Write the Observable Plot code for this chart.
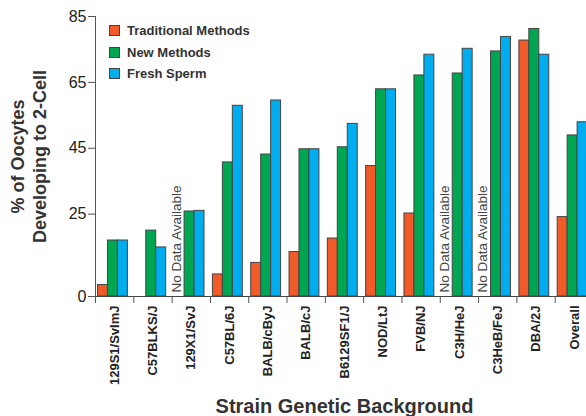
<!DOCTYPE html>
<html>
<head>
<meta charset="utf-8">
<script src="https://cdn.jsdelivr.net/npm/d3@7"></script>
<script src="https://cdn.jsdelivr.net/npm/@observablehq/plot@0.6"></script>
<style>
  html, body { margin: 0; padding: 0; background: #fff; overflow: hidden; }
  #wrap { position: relative; width: 586px; height: 416px; overflow: hidden; font-family: "Liberation Sans", Arial, sans-serif; }
  #legend { position: absolute; left: 109px; top: 20px; }
  .item { display: flex; align-items: center; height: 21.5px; font-weight: bold; font-size: 13px; color: #333; }
  .sw { width: 9px; height: 9px; border: 1px solid #444; margin-right: 7px; }
</style>
</head>
<body>
<div id="wrap"><div id="legend"></div></div>
<script>
const strains = ["129S1/SvImJ","C57BLKS/J","129X1/SvJ","C57BL/6J","BALB/cByJ","BALB/cJ","B6129SF1/J","NOD/LtJ","FVB/NJ","C3H/HeJ","C3HeB/FeJ","DBA/2J","Overall"];
const methods = ["Traditional Methods","New Methods","Fresh Sperm"];
const traditional = [3.5, null, null, 6.7, 10.2, 13.5, 17.6, 39.6, 25.2, null, null, 77.7, 24.1];
const newMethods  = [17.0, 20.0, 25.8, 40.7, 43.1, 44.7, 45.3, 62.9, 67.1, 67.7, 74.4, 81.2, 48.9];
const fresh       = [17.0, 14.9, 26.0, 57.9, 59.5, 44.7, 52.4, 62.9, 73.4, 75.2, 78.8, 73.4, 52.9];
const noData = ["129X1/SvJ","C3H/HeJ","C3HeB/FeJ"];
const yTicks = [0, 25, 45, 65, 85];
const colors = ["#F15A29", "#00A651", "#00AEEF"];

const series = [traditional, newMethods, fresh];
const table = [];
strains.forEach((s, i) => methods.forEach((m, j) => {
  const v = series[j][i];
  if (v != null) table.push({strain: s, i, method: m, j, value: v});
}));

const off = 0.065, bw = 0.26;

const chart = Plot.plot({
  width: 586, height: 416,
  marginLeft: 95, marginTop: 16, marginBottom: 120, marginRight: 0,
  style: {fontFamily: '"Liberation Sans", Arial, sans-serif', color: "#333", overflow: "hidden", background: "#fff"},
  x: {domain: [0, strains.length], range: [95, 593]},
  y: {domain: [0, 85]},
  color: {domain: methods, range: colors},
  marks: [
    Plot.rect(table, {
      x1: d => d.i + off + d.j * bw,
      x2: d => d.i + off + (d.j + 1) * bw,
      y1: 0, y2: "value",
      fill: "method", stroke: "#444", strokeWidth: 1
    }),
    Plot.text(noData, {
      x: d => strains.indexOf(d) + off + bw / 2, y: 0,
      text: () => "No Data Available",
      rotate: -90, textAnchor: "start", dx: -3, dy: -4, fontSize: 13.5, fill: "#444"
    }),
    Plot.ruleX([0], {stroke: "#555"}),
    Plot.ruleY([0], {stroke: "#444"}),
    Plot.axisY({ticks: yTicks, tickSize: 7, tickPadding: 2, fontSize: 16, label: null, stroke: "#555", fill: "#222"}),
    Plot.axisX({ticks: d3.range(strains.length + 1), tickSize: 7, tickFormat: () => "", label: null, stroke: "#555"}),
    Plot.axisX({
      ticks: strains.map((s, i) => i + 0.5), tickFormat: d => strains[Math.floor(d)],
      tickSize: 0, tickPadding: 9, tickRotate: -90, fontSize: 13, fontWeight: "bold", fill: "#222", label: null
    }),
    Plot.text(["Strain Genetic Background"], {
      x: strains.length / 2, frameAnchor: "bottom", dy: 116, lineAnchor: "bottom",
      fontSize: 20, fontWeight: "bold", fill: "#333"
    }),
    Plot.text(["% of Oocytes"], {
      y: 42.5, frameAnchor: "left", dx: -77, rotate: -90, textAnchor: "middle", lineAnchor: "middle",
      fontSize: 18, fontWeight: "bold", fill: "#333"
    }),
    Plot.text(["Developing to 2-Cell"], {
      y: 42.5, frameAnchor: "left", dx: -55, rotate: -90, textAnchor: "middle", lineAnchor: "middle",
      fontSize: 18, fontWeight: "bold", fill: "#333"
    })
  ]
});
const wrap = document.getElementById("wrap");
wrap.insertBefore(chart, wrap.firstChild);

const legend = document.getElementById("legend");
methods.forEach((m, j) => {
  const it = document.createElement("div");
  it.className = "item";
  const sw = document.createElement("div");
  sw.className = "sw";
  sw.style.background = colors[j];
  it.appendChild(sw);
  it.appendChild(document.createTextNode(m));
  legend.appendChild(it);
});
</script>
</body>
</html>
